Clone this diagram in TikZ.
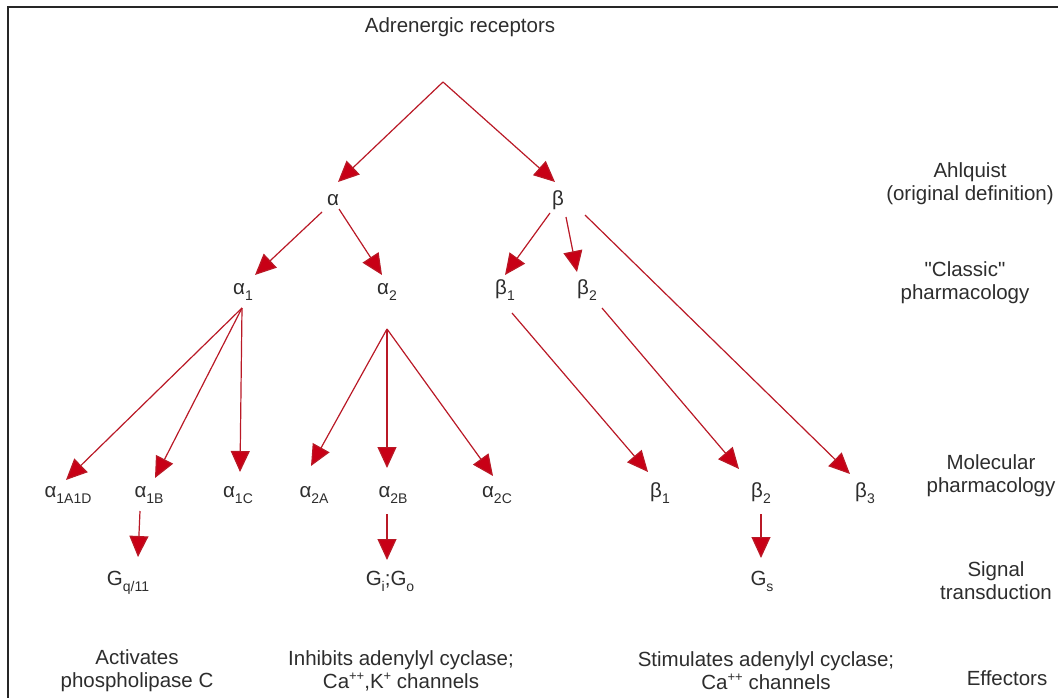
\documentclass[tikz,border=0pt]{standalone}
\usepackage{fontspec}
\setmainfont{Liberation Sans}
\newfontfamily\qfont{Liberation Sans}
\usetikzlibrary{arrows.meta}
\definecolor{arrred}{RGB}{185,25,38}
\definecolor{headred}{RGB}{200,0,22}
\definecolor{txt}{RGB}{45,45,45}
\newcommand{\lsub}[1]{\raisebox{-0.3em}{\fontsize{14}{14}\selectfont #1}}
\newcommand{\lsup}[1]{\raisebox{0.42em}{\fontsize{13}{13}\selectfont #1}}
\begin{document}
\begin{tikzpicture}[x=1pt,y=-1pt,
  lab/.style={inner sep=0pt, anchor=base, text=txt, font=\fontsize{20.5}{23}\selectfont},
  txtbox/.style={inner sep=0pt, align=center, text=txt, font=\fontsize{20.5}{23}\selectfont},
  arr/.style={draw=arrred, line width=1.2pt, -{Triangle[length=21pt,width=19pt,fill=headred]}}]
\useasboundingbox (0,0) rectangle (1058,698);
% frame
\draw[line width=2.5pt, black!85] (8,698) -- (8,7) -- (1058,7);
% title
\node[txtbox] (title) at (460,27) {Adrenergic receptors};
\coordinate (apex) at (443,82);
% level 1
\node[lab] (al) at (333,205) {α};
\node[lab] (be) at (558,205) {β};
% level 2
\node[lab] (a1) at (243,294) {α\lsub{1}};
\node[lab] (a2) at (387,294) {α\lsub{2}};
\node[lab] (b1) at (505,294) {β\lsub{1}};
\node[lab] (b2) at (587,294) {β\lsub{2}};
% level 4
\node[lab] (a1ad) at (68,497) {α\lsub{1A1D}};
\node[lab] (a1b) at (149,497) {α\lsub{1B}};
\node[lab] (a1c) at (238,497) {α\lsub{1C}};
\node[lab] (a2a) at (314,497) {α\lsub{2A}};
\node[lab] (a2b) at (393,497) {α\lsub{2B}};
\node[lab] (a2c) at (497,497) {α\lsub{2C}};
\node[lab] (mb1) at (660,497) {β\lsub{1}};
\node[lab] (mb2) at (761,497) {β\lsub{2}};
\node[lab] (mb3) at (865,497) {β\lsub{3}};
% level 5
\node[lab] (gq) at (128,585) {G\lsub{q/11}};
\node[lab] (gi) at (390,585) {G\lsub{i};G\lsub{o}};
\node[lab] (gs) at (762,585) {G\lsub{s}};
% effectors
\node[txtbox] (e1) at (137,671) {Activates\\phospholipase C};
\node[txtbox] (e2) at (401,671) {Inhibits adenylyl cyclase;\\Ca\lsup{++},K\lsup{+} channels};
\node[txtbox] (e3) at (766,671) {Stimulates adenylyl cyclase;\\Ca\lsup{++} channels};
% right column
\node[txtbox] (r1) at (970,184) {Ahlquist\\(original definition)};
\node[txtbox] (r2) at (965,283) {{\qfont"}Classic{\qfont"}\\pharmacology};
\node[txtbox] (r3) at (991,476) {Molecular\\pharmacology};
\node[txtbox] (r4) at (996,581) {Signal\\transduction};
\node[txtbox] (r5) at (1007,678) {Effectors};
% forks
\coordinate (a1fork) at ([shift={(-1,14)}]a1.base);
\coordinate (a2fork) at ([shift={(0,35)}]a2.base);
% arrows
\draw[arr] (apex) -- ([shift={(5,-23)}]al.base);
\draw[arr] (apex) -- ([shift={(-3,-23)}]be.base);
\draw[arr] ([shift={(-11,7)}]al.base) -- ([shift={(12,-19)}]a1.base);
\draw[arr] ([shift={(6,4)}]al.base) -- ([shift={(-5,-19)}]a2.base);
\draw[arr] ([shift={(-8,8)}]be.base) -- ([shift={(0,-19)}]b1.base);
\draw[arr] ([shift={(8,12)}]be.base) -- ([shift={(-10,-22)}]b2.base);
\draw[arr] ([shift={(27,10)}]be.base) -- ([shift={(-15,-23)}]mb3.base);
\draw[arr] (a1fork) -- ([shift={(-2,-17)}]a1ad.base);
\draw[arr] (a1fork) -- ([shift={(6,-19)}]a1b.base);
\draw[arr] (a1fork) -- ([shift={(2,-25)}]a1c.base);
\draw[arr] (a2fork) -- ([shift={(-3,-31)}]a2a.base);
\draw[arr] (a2fork) -- ([shift={(-6,-29)}]a2b.base);
\draw[arr] (a2fork) -- ([shift={(-4,-21)}]a2c.base);
\draw[arr] ([shift={(7,19)}]b1.base) -- ([shift={(-12,-25)}]mb1.base);
\draw[arr] ([shift={(15,14)}]b2.base) -- ([shift={(-22,-28)}]mb2.base);
\draw[arr] ([shift={(-9,14)}]a1b.base) -- ([shift={(10,-28)}]gq.base);
\draw[arr] ([shift={(-6,17)}]a2b.base) -- ([shift={(-3,-25)}]gi.base);
\draw[arr] ([shift={(0,17)}]mb2.base) -- ([shift={(-1,-27)}]gs.base);
\end{tikzpicture}
\end{document}
